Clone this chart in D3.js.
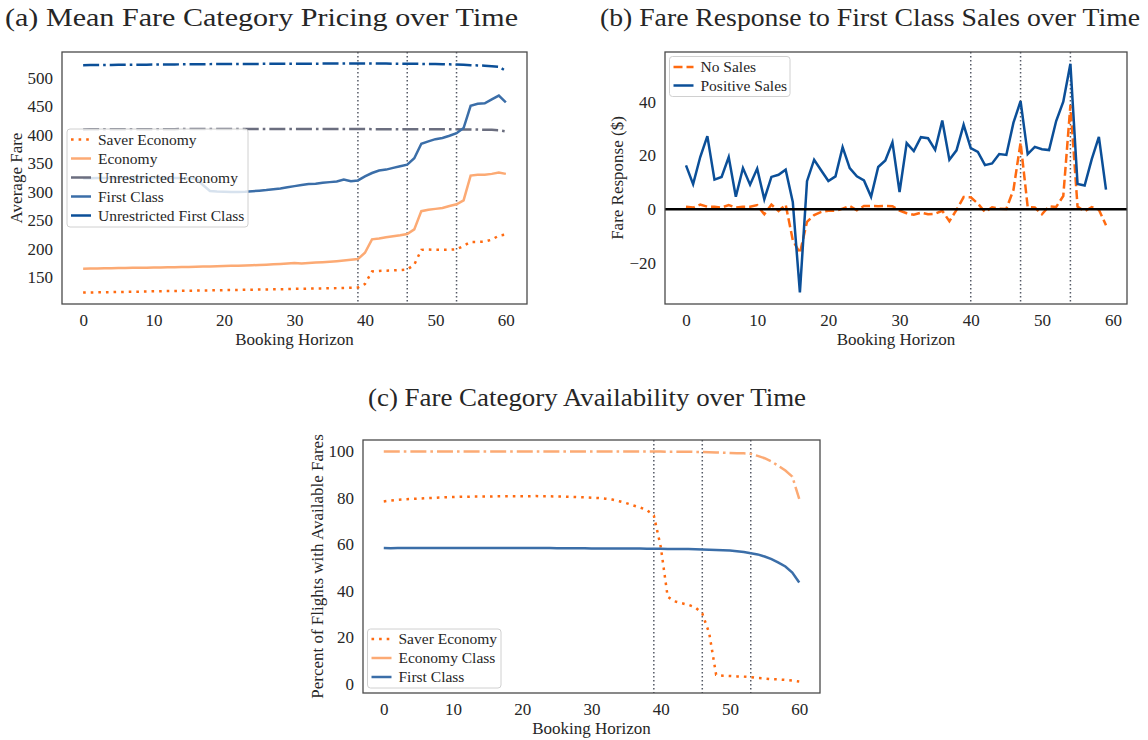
<!DOCTYPE html>
<html>
<head>
<meta charset="utf-8">
<script src="https://cdn.jsdelivr.net/npm/d3@7"></script>
<style>
body { margin: 0; background: #fff; }
text { font-family: "Liberation Serif", "DejaVu Serif", serif; fill: #262626; }
</style>
</head>
<body>
<script>
var width = 1148
var height = 740

// ---- (a) mean fare per category ----
var horizonA = d3.range(0, 61)
var saverFare = [123,123.2,123.4,123.6,123.8,124,124.2,124.4,124.6,124.8,
  125.2,125.4,125.6,125.8,126,126.2,126.4,126.6,126.8,127,
  127.3,127.5,127.7,127.9,128.1,128.3,128.5,128.7,128.9,129.2,
  129.5,129.7,129.9,130.1,130.3,130.5,130.8,131.1,131.4,131.8,
  138,160,161,161.5,162,162.5,163.5,172,198,198.5,
  198,198,198.2,199,205,212,212,212.5,216,223,225]
var economyFare = [165,165.2,165.4,165.6,165.8,166,166.2,166.4,166.6,166.8,
  167,167.2,167.4,167.6,167.8,168,168.3,168.6,168.9,169.2,
  169.6,169.9,170.2,170.6,171,171.5,172,172.6,173.2,174,
  175,174.2,174.8,175.6,176.4,177.3,178.2,179.3,180.5,181.8,
  193,216.5,218,220,221.8,223.5,225.8,234,266,268.5,
  270,271.5,275,278,285,328.5,330,330,331.5,334,331.5]
var unrestrEconFare = [409.6,409.7,409.7,409.8,409.8,409.9,409.9,410,410,410,
  410,410.1,410.1,410.1,410.2,410.2,410.2,410.2,410.3,410.3,
  410.3,410.3,410.3,410.3,410.3,410.3,410.3,410.3,410.3,410.3,
  410.3,410.3,410.3,410.3,410.3,410.2,410.2,410.2,410.2,410.2,
  410.2,410.1,410.1,410.1,410.1,410,410,410,410,409.9,
  409.9,409.8,409.8,409.7,409.6,409.5,409.3,409.1,408.8,408.2,406]
var firstFare = [324,324,324.1,324.1,324.2,324.2,324.2,324.3,324.3,324.3,
  324.3,324.3,324.2,324.2,324.1,323.9,323.5,312,301.5,300.5,
  300,299.6,299.5,300,301,302,303,304.5,306,308,
  310,312,313.5,314,316,317,318,321.5,318.5,320,
  327,333,337.5,339,342,345,347.8,359,384.5,388.5,
  392.5,394.5,398.5,403,412,451,454.5,455.5,462.5,469,457]
var unrestrFirstFare = [522.5,522.6,522.7,522.8,522.9,523,523.1,523.2,523.3,523.4,
  523.5,523.6,523.7,523.8,523.9,524,524.1,524.2,524.3,524.4,
  524.5,524.5,524.6,524.6,524.7,524.7,524.8,524.8,524.9,524.9,
  525,525,525.1,525.1,525.2,525.2,525.3,525.3,525.4,525.4,
  525.5,525.4,525.3,525.2,525.1,525,524.9,524.8,524.7,524.6,
  524.5,524.2,523.9,523.5,523,522.5,522,521.5,520.5,519.5,512.5]
var markersA = [39, 46, 53]
var yTicksA = [150, 200, 250, 300, 350, 400, 450, 500]

// ---- (b) fare response to first class sales ----
var horizonB = d3.range(0, 60)
var noSales = [0.9,0.6,1.7,0.9,0.9,0.6,1.5,0.6,0.9,0.9,
  1.5,-1.9,1.7,-0.7,1.7,-11.5,-16.4,-4.7,-2.2,-1,
  -0.6,-0.6,0.2,1.2,-0.4,1.2,1.2,1.1,1.2,1.1,
  -0.5,-1.5,-2.1,-1.3,-1.9,-1.7,-0.6,-4.5,-0.3,4.5,
  4.4,2.1,-1.1,0.7,0.2,0.1,7.2,24.8,0.8,0.6,
  -1.9,1.1,0.8,4.9,38.7,1,-0.8,0.8,-0.2,-6]
var positiveSales = [16.3,9.3,19.4,27.2,11,12,19.4,4.6,15.3,9.1,
  15.1,3.7,12,12.8,14.7,2.7,-31,10.4,18.4,14.4,
  10.5,12.2,23.1,15.3,12.2,10.7,4.6,15.7,18.1,24.9,
  6.4,24.6,21.6,26.8,26.4,22.1,33,18.4,21.9,31.4,
  22.7,21.3,16.4,17,20.5,20.2,32.2,40.2,20.5,23.2,
  22.3,22,32.8,40,54.1,9.4,8.8,18.6,26.9,7.3]
var markersB = [40, 47, 54]
var yTicksB = [-20, 0, 20, 40]

// ---- (c) availability ----
var horizonC = d3.range(0, 61)
var saverAvail = [78.5,78.9,79.2,79.4,79.6,79.7,79.9,80,80.2,80.3,
  80.4,80.5,80.5,80.6,80.6,80.6,80.7,80.7,80.7,80.7,
  80.7,80.7,80.8,80.7,80.7,80.6,80.6,80.5,80.4,80.3,
  80.1,80,79.7,79.3,78.6,77.8,76.8,75.9,74.8,72.5,
  59,37.5,35.5,34.7,34,32.9,30.3,21.8,3.9,3.5,
  3.4,3.2,3.1,2.9,2.5,2.3,2,1.9,1.7,1.4,1]
var econAvail = [100,100,100,100,100,100,100,100,100,100,
  100,100,100,100,100,100,100,100,100,100,
  100,100,100,100,100,100,100,100,100,100,
  100,100,100,100,100,100,100,100,100,100,
  100,99.9,99.9,99.9,99.9,99.8,99.8,99.7,99.6,99.5,
  99.4,99.3,99.2,99,98.1,97.1,95.7,93.8,91.8,89.2,79.6]
var firstAvail = [58.5,58.4,58.5,58.5,58.5,58.5,58.5,58.5,58.5,58.5,
  58.5,58.5,58.5,58.5,58.5,58.5,58.5,58.5,58.5,58.5,
  58.5,58.5,58.5,58.5,58.5,58.4,58.4,58.4,58.4,58.4,
  58.3,58.3,58.3,58.3,58.2,58.2,58.2,58.2,58.1,58.1,
  58.1,58,58,58,58,57.9,57.8,57.7,57.6,57.5,
  57.4,57.1,56.7,56.2,55.7,54.8,53.7,52.2,50.5,47.9,43.6]
var markersC = [39, 46, 53]
var yTicksC = [0, 20, 40, 60, 80, 100]

var xTicks = [0, 10, 20, 30, 40, 50, 60]

// colours / line styles
var orange = "#ff6a10", lightOrange = "#fcaa74", grey = "#6b6e7f",
    blue = "#3b6ea8", darkBlue = "#0b4f98"
var DOT = "2.6,5", DASHDOT = "16,4,2.6,4", DASH = "9,4"

var svg = d3.select("body")
    .append("svg")
    .attr("width", width)
    .attr("height", height)

function panel(p) {
    var x = d3.scaleLinear().domain(p.xDomain).range([p.left, p.right])
    var y = d3.scaleLinear().domain(p.yDomain).range([p.bottom, p.top])
    var g = svg.append("g")

    g.append("g")
        .attr("transform", "translate(0," + p.bottom + ")")
        .call(d3.axisBottom(x).tickValues(xTicks).tickSize(0).tickPadding(10))
        .call(a => a.select(".domain").remove())
        .selectAll("text").style("font-size", "17px").attr("fill", "#262626")
        .style("font-family", "Liberation Serif")

    g.append("g")
        .attr("transform", "translate(" + p.left + ",0)")
        .call(d3.axisLeft(y).tickValues(p.yTicks).tickSize(0).tickPadding(9))
        .call(a => a.select(".domain").remove())
        .selectAll("text").style("font-size", "17px").attr("fill", "#262626")
        .style("font-family", "Liberation Serif")

    // dotted markers
    g.selectAll(".vline")
        .data(p.markers)
        .enter()
        .append("line")
        .attr("x1", d => x(d)).attr("x2", d => x(d))
        .attr("y1", p.top).attr("y2", p.bottom)
        .attr("stroke", "#555a66")
        .attr("stroke-width", 1.5)
        .attr("stroke-dasharray", "1.5,2.5")

    var line = d3.line()
    p.series.forEach(function (s) {
        line.x((d, i) => x(s.xs[i])).y(d => y(d))
        g.append("path")
            .attr("d", line(s.values))
            .attr("fill", "none")
            .attr("stroke", s.color)
            .attr("stroke-width", s.width || 2.5)
            .attr("stroke-dasharray", s.dash || null)
    })

    if (p.zeroLine) {
        g.append("line")
            .attr("x1", p.left).attr("x2", p.right)
            .attr("y1", y(0)).attr("y2", y(0))
            .attr("stroke", "#000").attr("stroke-width", 2.5)
    }

    g.append("rect")
        .attr("x", p.left).attr("y", p.top)
        .attr("width", p.right - p.left).attr("height", p.bottom - p.top)
        .attr("fill", "none").attr("stroke", "#4a4a4a").attr("stroke-width", 1.3)

    // legend
    var L = p.legend
    g.append("rect")
        .attr("x", L.x).attr("y", L.y)
        .attr("width", L.w).attr("height", L.h)
        .attr("rx", 3)
        .attr("fill", "#fff").attr("fill-opacity", 0.8)
        .attr("stroke", "#d0d0d0")
    p.series.forEach(function (s, i) {
        var cy = L.y + L.first + i * L.step
        g.append("line")
            .attr("x1", L.x + 4).attr("x2", L.x + 24)
            .attr("y1", cy).attr("y2", cy)
            .attr("stroke", s.color).attr("stroke-width", 2.5)
            .attr("stroke-dasharray", s.legendDash || s.dash || null)
        g.append("text")
            .attr("x", L.x + 31).attr("y", cy)
            .attr("dy", "0.35em")
            .style("font-size", "15.5px")
            .text(s.name)
    })

    // axis labels
    g.append("text")
        .attr("x", (p.left + p.right) / 2).attr("y", p.bottom + 41)
        .attr("text-anchor", "middle")
        .style("font-size", "17px")
        .text("Booking Horizon")
    g.append("text")
        .attr("transform", "translate(" + (p.left - p.ylabelOff) + "," + ((p.top + p.bottom) / 2) + ") rotate(-90)")
        .attr("text-anchor", "middle")
        .attr("dy", "0.35em")
        .style("font-size", "17px")
        .text(p.ylabel)

    svg.append("text")
        .attr("x", p.title.x).attr("y", p.title.y)
        .attr("textLength", p.title.w)
        .attr("lengthAdjust", "spacingAndGlyphs")
        .style("font-size", "25px")
        .attr("fill", "#111")
        .text(p.title.text)
}

panel({
    left: 62, right: 527, top: 52, bottom: 304,
    xDomain: [-3, 63], yDomain: [102.9, 545.6], yTicks: yTicksA,
    markers: markersA,
    ylabel: "Average Fare", ylabelOff: 46,
    title: { text: "(a) Mean Fare Category Pricing over Time", x: 5, y: 26, w: 513 },
    legend: { x: 67, y: 129, w: 181, h: 98, first: 10.5, step: 19 },
    series: [
        { name: "Saver Economy", xs: horizonA, values: saverFare, color: orange, dash: DOT, legendDash: "2.6,5" },
        { name: "Economy", xs: horizonA, values: economyFare, color: lightOrange },
        { name: "Unrestricted Economy", xs: horizonA, values: unrestrEconFare, color: grey, dash: DASHDOT, legendDash: "20" },
        { name: "First Class", xs: horizonA, values: firstFare, color: blue },
        { name: "Unrestricted First Class", xs: horizonA, values: unrestrFirstFare, color: darkBlue, dash: DASHDOT, legendDash: "20" }
    ]
})

panel({
    left: 665, right: 1127, top: 52, bottom: 304,
    xDomain: [-2.95, 61.95], yDomain: [-35.3, 58.5], yTicks: yTicksB,
    markers: markersB, zeroLine: true,
    ylabel: "Fare Response ($)", ylabelOff: 48,
    title: { text: "(b) Fare Response to First Class Sales over Time", x: 600, y: 26, w: 540 },
    legend: { x: 669.5, y: 56.5, w: 120.5, h: 40, first: 10.5, step: 18.5 },
    series: [
        { name: "No Sales", xs: horizonB, values: noSales, color: orange, dash: DASH },
        { name: "Positive Sales", xs: horizonB, values: positiveSales, color: darkBlue }
    ]
})

panel({
    left: 363, right: 820, top: 440, bottom: 693,
    xDomain: [-3, 63], yDomain: [-3.95, 104.95], yTicks: yTicksC,
    markers: markersC,
    ylabel: "Percent of Flights with Available Fares", ylabelOff: 46,
    title: { text: "(c) Fare Category Availability over Time", x: 368, y: 406, w: 438 },
    legend: { x: 367.5, y: 629, w: 133.5, h: 59, first: 10, step: 19 },
    series: [
        { name: "Saver Economy", xs: horizonC, values: saverAvail, color: orange, dash: DOT },
        { name: "Economy Class", xs: horizonC, values: econAvail, color: lightOrange, dash: DASHDOT, legendDash: "20" },
        { name: "First Class", xs: horizonC, values: firstAvail, color: blue }
    ]
})
</script>
</body>
</html>
